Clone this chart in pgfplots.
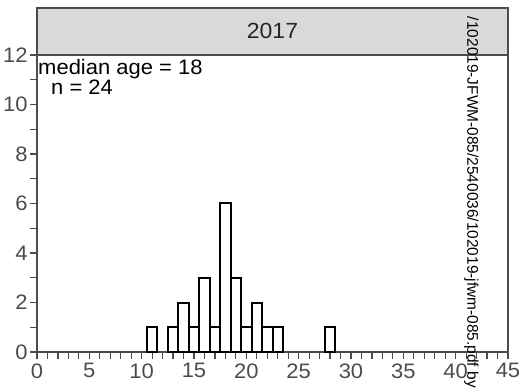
\documentclass[border=0pt]{standalone}
\usepackage{pgfplots}
\pgfplotsset{compat=1.18}
\usepackage{fontspec}
\setmainfont{Liberation Sans}[FakeStretch=1.05]
\newfontfamily\wmfont{Liberation Sans}
\definecolor{axgray}{gray}{0.3}
\definecolor{stripgray}{gray}{0.85}
\begin{document}
\begin{tikzpicture}
\begin{axis}[
 scale only axis, width=471bp, height=297bp,
 xmin=0, xmax=45, ymin=0, ymax=12,
 xtick={0,5,...,45}, ytick={0,2,...,12},
 minor xtick={0,...,45}, minor ytick={1,3,...,11},
 tick align=outside, major tick length=7bp, minor tick length=7bp,
 tick style={axgray, line width=1.2bp},
 axis line style={axgray, line width=1.3bp},
 ticklabel style={font=\fontsize{21}{25}\selectfont, text=axgray},
 xticklabel style={yshift=-1bp},
 yticklabel style={xshift=1bp},
 /pgf/number format/assume math mode=true,
 xtick pos=bottom, ytick pos=left,
 clip=false,
]
\addplot[ybar, bar width=1, draw=black, line width=2bp, fill=white] coordinates {
(11,1) (13,1) (14,2) (15,1) (16,3) (17,1) (18,6) (19,3) (20,1) (21,2) (22,1) (23,1) (28,1)};
\draw[axgray, line width=1.3bp, fill=stripgray] (rel axis cs:0,1) rectangle ([yshift=47bp]rel axis cs:1,1);
\node[anchor=base, font=\fontsize{22}{26}\selectfont, text=black!85, inner sep=0pt] at ([yshift=16bp]rel axis cs:0.5,1) {2017};
\node[anchor=base west, font=\fontsize{21}{25}\selectfont, inner sep=0pt] at (axis cs:0.1,11.2) {median age = 18};
\node[anchor=base west, font=\fontsize{21}{25}\selectfont, inner sep=0pt] at (axis cs:1.34,10.4) {n = 24};
\coordinate (SW) at (rel axis cs:0,0);
\coordinate (NE) at (rel axis cs:1,1);
\end{axis}
\node[rotate=-90, anchor=south east, font=\wmfont\fontsize{15.5}{18}\selectfont, inner sep=0pt] at ([xshift=-44bp,yshift=-36bp]NE |- SW) {/102019-JFWM-085/2540036/102019-jfwm-085.pdf by};
\pgfresetboundingbox
\path ([xshift=-37bp,yshift=-38bp]SW) rectangle ([xshift=16bp,yshift=55bp]NE);
\end{tikzpicture}
\end{document}
